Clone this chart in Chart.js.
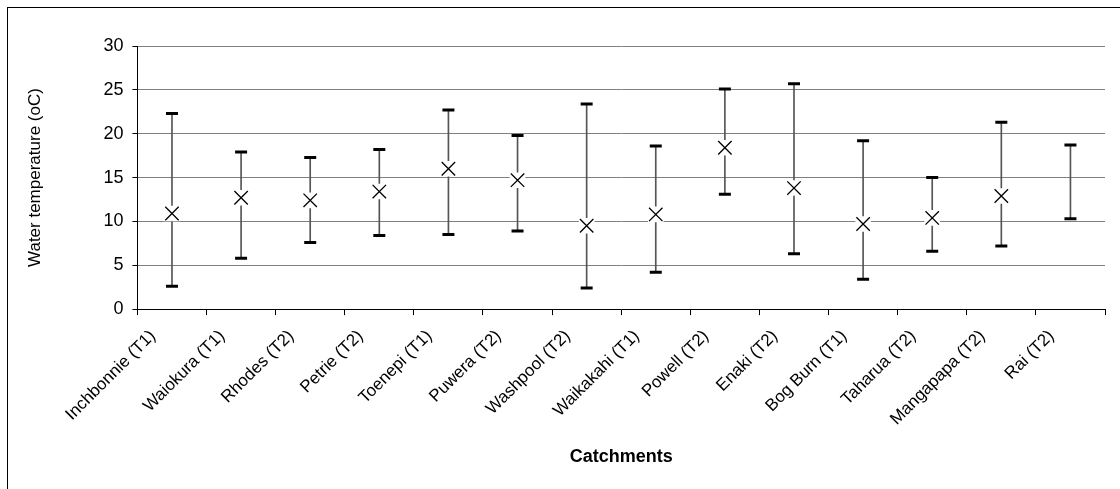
<!DOCTYPE html>
<html>
<head>
<meta charset="utf-8">
<script src="https://cdn.jsdelivr.net/npm/chart.js@4/dist/chart.umd.min.js"></script>
<style>
  body { margin: 0; background: #fff; }
  #wrap { position: relative; width: 1120px; height: 489px; overflow: hidden; }
  #frame { position: absolute; left: 7px; top: 7px; width: 1200px; height: 600px;
           border-left: 1px solid #000; border-top: 1px solid #000; }
  canvas { position: absolute; left: 0; top: 0; }
</style>
</head>
<body>
<div id="wrap">
  <div id="frame"></div>
  <canvas id="chart" width="1120" height="489"></canvas>
</div>
<script>
const catchments = [
  "Inchbonnie (T1)", "Waiokura (T1)", "Rhodes (T2)", "Petrie (T2)", "Toenepi (T1)",
  "Puwera (T2)", "Washpool (T2)", "Waikakahi (T1)", "Powell (T2)", "Enaki (T2)",
  "Bog Burn (T1)", "Taharua (T2)", "Mangapapa (T2)", "Rai (T2)"
];
const maxTemp  = [22.3, 17.9, 17.3, 18.2, 22.7, 19.8, 23.4, 18.6, 25.1, 25.7, 19.2, 15.0, 21.3, 18.7];
const minTemp  = [2.6, 5.8, 7.6, 8.4, 8.5, 8.9, 2.4, 4.2, 13.1, 6.3, 3.4, 6.6, 7.2, 10.3];
const meanTemp = [10.9, 12.7, 12.4, 13.4, 16.0, 14.7, 9.5, 10.8, 18.4, 13.8, 9.7, 10.4, 12.9, null];
const yTicks = [0, 5, 10, 15, 20, 25, 30];

const font = "'Liberation Sans', Arial, sans-serif";
const gridGray = "#808080";

const ranges = catchments.map((c, i) => [minTemp[i], maxTemp[i]]);

const ctx = document.getElementById("chart");
new Chart(ctx, {
  type: "bar",
  data: {
    labels: catchments,
    datasets: [
      {
        label: "range",
        data: ranges,
        backgroundColor: "#555",
        borderWidth: 0,
        barThickness: 1,
        order: 5
      },
      {
        type: "line",
        label: "max",
        data: maxTemp,
        showLine: false,
        pointStyle: "line",
        pointRadius: 6,
        pointBorderWidth: 3,
        pointBorderColor: "#000",
        order: 4
      },
      {
        type: "line",
        label: "min",
        data: minTemp,
        showLine: false,
        pointStyle: "line",
        pointRadius: 6,
        pointBorderWidth: 3,
        pointBorderColor: "#000",
        order: 3
      },
      {
        type: "line",
        label: "halo",
        data: meanTemp,
        showLine: false,
        pointStyle: "rect",
        pointRadius: 11,
        pointBackgroundColor: "#fff",
        pointBorderColor: "#fff",
        pointBorderWidth: 0,
        order: 2
      },
      {
        type: "line",
        label: "mean",
        data: meanTemp,
        showLine: false,
        pointStyle: "crossRot",
        pointRadius: 9.5,
        pointBorderWidth: 1.3,
        pointBorderColor: "#000",
        order: 1
      }
    ]
  },
  options: {
    responsive: false,
    animation: false,
    events: [],
    layout: { padding: { left: 25, top: 46, right: 15, bottom: 21 } },
    plugins: {
      legend: { display: false },
      tooltip: { enabled: false }
    },
    scales: {
      x: {
        grid: {
          offset: true,
          drawOnChartArea: true,
          color: (c) => (c.index === catchments.length ? gridGray : "rgba(0,0,0,0)"),
          tickColor: "#000",
          tickLength: 6
        },
        border: { color: "#000", width: 1 },
        ticks: {
          color: "#000",
          font: { family: font, size: 17 },
          minRotation: 45,
          maxRotation: 45,
          autoSkip: false,
          padding: 11,
          labelOffset: -19
        },
        title: {
          display: true,
          text: "Catchments",
          color: "#000",
          font: { family: font, size: 18, weight: "bold" },
          padding: { top: 6, bottom: 0 }
        }
      },
      y: {
        min: 0,
        max: 30,
        afterBuildTicks: (axis) => { axis.ticks = yTicks.map((v) => ({ value: v })); },
        grid: {
          color: gridGray,
          tickColor: "#000",
          tickLength: 5
        },
        border: { color: "#000", width: 1 },
        ticks: {
          color: "#000",
          font: { family: font, size: 18 },
          padding: 9
        },
        title: {
          display: true,
          text: "Water temperature (oC)",
          color: "#000",
          font: { family: font, size: 17 },
          padding: { top: 0, bottom: 49 }
        }
      }
    }
  }
});
</script>
</body>
</html>
